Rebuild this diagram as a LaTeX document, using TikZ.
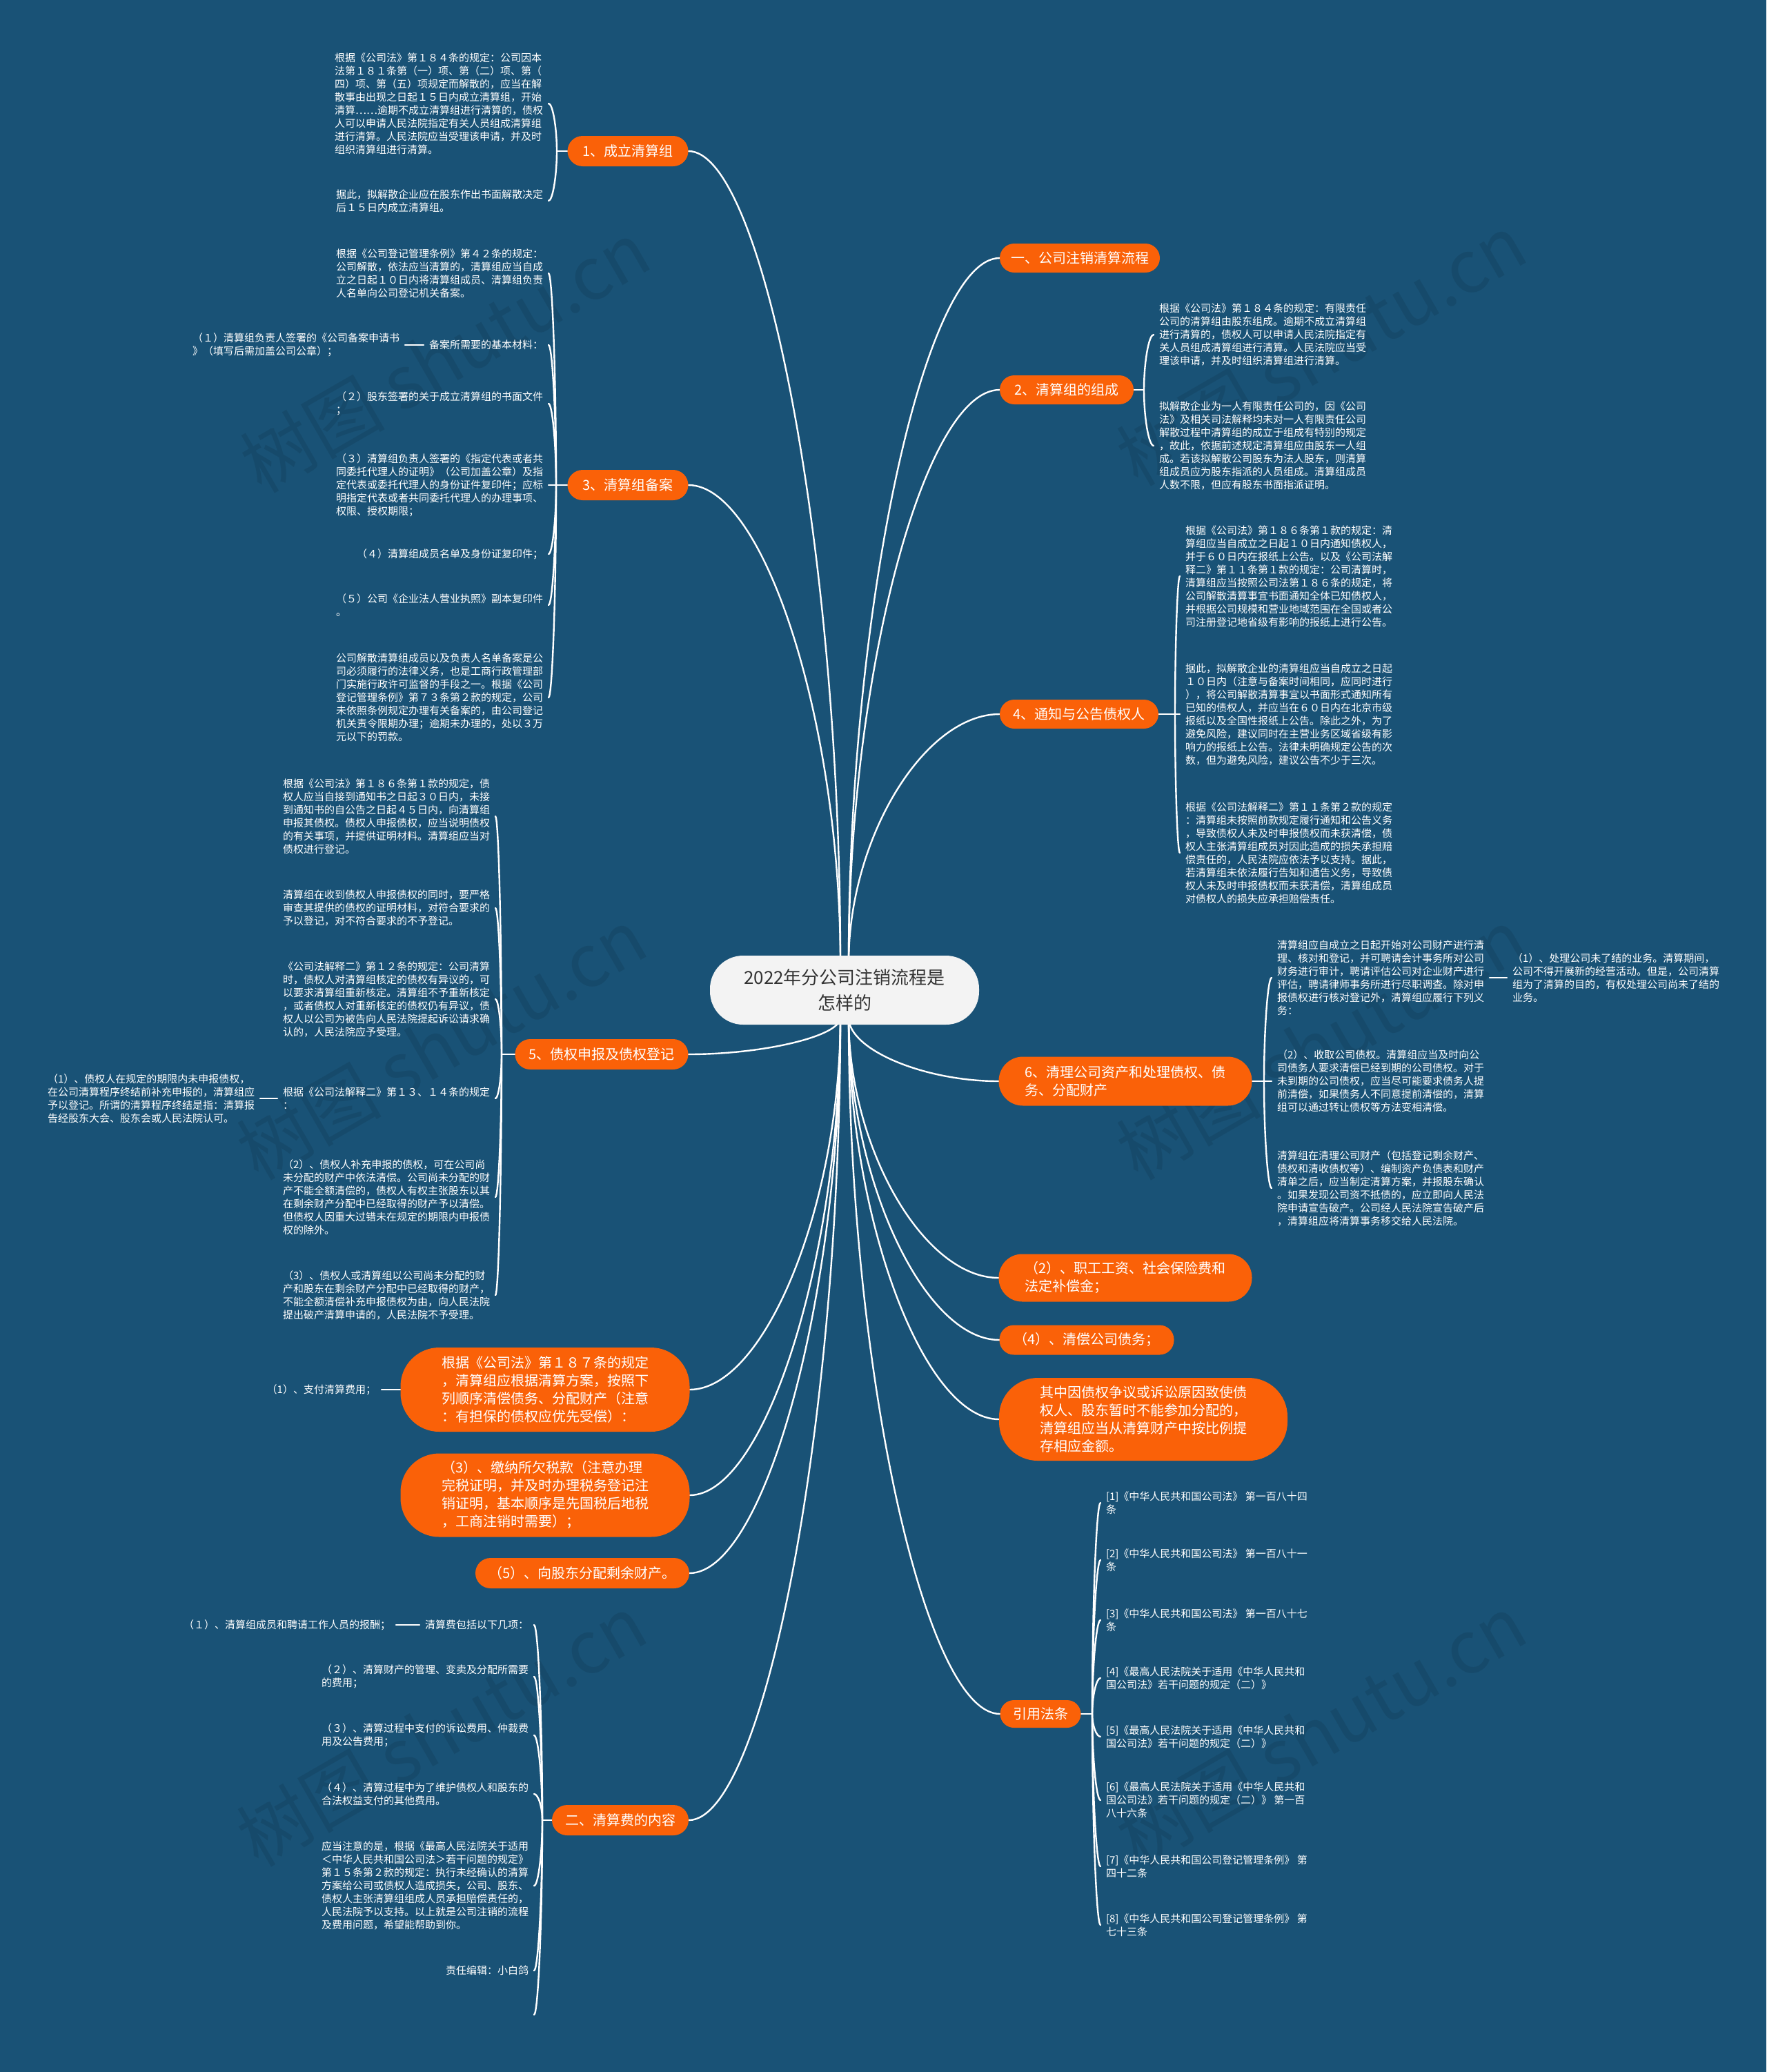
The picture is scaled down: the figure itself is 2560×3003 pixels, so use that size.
\documentclass[tikz,border=0pt]{standalone}
\usepackage{fontspec}
\setmainfont{Noto Sans CJK SC}
\usetikzlibrary{calc}
\pgfdeclarelayer{back}
\pgfsetlayers{back,main}
\definecolor{bgblue}{RGB}{25,82,118}
\definecolor{orng}{RGB}{250,97,8}
\definecolor{rootfill}{RGB}{243,243,243}
\definecolor{roottext}{RGB}{51,51,51}
\newcommand\leaffont{\fontsize{15pt}{19pt}\selectfont}
\newcommand\brfont{\fontsize{20pt}{26pt}\selectfont}
\newcommand\rtfont{\fontsize{26pt}{37pt}\selectfont}
\newcommand\wmfont{\fontsize{105pt}{105pt}\selectfont}
\tikzset{
  link/.style={draw=white, line width=2.4pt, line cap=round},
  leafL/.style={anchor=east, align=left, text=white, font=\leaffont, inner sep=0pt, outer sep=8pt},
  leafR/.style={anchor=west, align=left, text=white, font=\leaffont, inner sep=0pt, outer sep=8pt},
  brn/.style n args={3}{rectangle, fill=orng, text=white, font=\brfont, align=left, inner sep=0pt,
     minimum width=#1, minimum height=#2, rounded corners=#3},
  rootnode/.style={rectangle, fill=rootfill, text=roottext, font=\rtfont, align=center, inner sep=0pt,
     minimum width=390pt, minimum height=100pt, rounded corners=48pt},
  wmark/.style={rotate=30, text=black, opacity=0.09, font=\wmfont, inner sep=0pt}
}
\newcommand\conn[2]{\draw[link] (#1) .. controls ($(#1)!0.5!(#1|-#2)$) and ($(#2)!0.5!(#1|-#2)$) .. (#2);}
\begin{document}
\begin{tikzpicture}[x=1pt,y=-1pt]
\useasboundingbox (0,0) rectangle (2560,3003);

% ---------------- root ----------------
\node[rootnode] (R) at (1224,1435) {2022年分公司注销流程是\\怎样的};
\coordinate (RtL) at (1218,1395);
\coordinate (RtR) at (1230,1395);
\coordinate (RbL) at (1218,1475);
\coordinate (RbR) at (1230,1475);

% ---------------- branch nodes ----------------
\node[brn={175pt}{44pt}{22pt}] (b1) at (910,219) {1、成立清算组};
\node[brn={175pt}{44pt}{22pt}] (b3) at (910,703) {3、清算组备案};
\node[brn={251pt}{44pt}{22pt}] (b5) at (872,1528) {5、债权申报及债权登记};
\node[brn={419pt}{122pt}{56pt}] (b187) at (790,2014) {根据《公司法》第１８７条的规定\\，清算组应根据清算方案，按照下\\列顺序清偿债务、分配财产（注意\\：有担保的债权应优先受偿）：};
\node[brn={419pt}{121pt}{56pt}] (btax) at (790,2167) {（3）、缴纳所欠税款（注意办理\\完税证明，并及时办理税务登记注\\销证明，基本顺序是先国税后地税\\，工商注销时需要）；};
\node[brn={310pt}{44pt}{22pt}] (bdist) at (844,2280) {（5）、向股东分配剩余财产。};
\node[brn={198pt}{44pt}{22pt}] (b9) at (899,2638) {二、清算费的内容};

\node[brn={232pt}{42pt}{21pt}] (r1) at (1565,374) {一、公司注销清算流程};
\node[brn={194pt}{42pt}{21pt}] (b2) at (1546,565) {2、清算组的组成};
\node[brn={230pt}{42pt}{21pt}] (b4) at (1564,1035) {4、通知与公告债权人};
\node[brn={367pt}{71pt}{35pt}] (b6) at (1631,1567) {6、清理公司资产和处理债权、债\\务、分配财产};
\node[brn={367pt}{69pt}{34pt}] (bwage) at (1631,1852) {（2）、职工工资、社会保险费和\\法定补偿金；};
\node[brn={253pt}{43pt}{21pt}] (bdebt) at (1575,1942) {（4）、清偿公司债务；};
\node[brn={418pt}{120pt}{56pt}] (bq) at (1657,2057) {其中因债权争议或诉讼原因致使债\\权人、股东暂时不能参加分配的，\\清算组应当从清算财产中按比例提\\存相应金额。};
\node[brn={117pt}{40pt}{20pt}] (bref) at (1508,2484) {引用法条};

% ---------------- group 1 ----------------
\coordinate (s1) at (807,219);
\node[leafL] (L1a) at (795,150) {根据《公司法》第１８４条的规定：公司因本\\法第１８１条第（一）项、第（二）项、第（\\四）项、第（五）项规定而解散的，应当在解\\散事由出现之日起１５日内成立清算组，开始\\清算……逾期不成立清算组进行清算的，债权\\人可以申请人民法院指定有关人员组成清算组\\进行清算。人民法院应当受理该申请，并及时\\组织清算组进行清算。};
\node[leafL] (L1b) at (795,291) {据此，拟解散企业应在股东作出书面解散决定\\后１５日内成立清算组。};

% ---------------- group 3 ----------------
\coordinate (s3) at (806,703);
\node[leafL] (L3a) at (795,396) {根据《公司登记管理条例》第４２条的规定：\\公司解散，依法应当清算的，清算组应当自成\\立之日起１０日内将清算组成员、清算组负责\\人名单向公司登记机关备案。};
\node[leafL] (L3b) at (795,500) {备案所需要的基本材料：};
\node[leafL] (C3b) at (587,500) {（１）清算组负责人签署的《公司备案申请书\\》（填写后需加盖公司公章）；};
\node[leafL] (L3c) at (795,585) {（２）股东签署的关于成立清算组的书面文件\\；};
\node[leafL] (L3d) at (795,703) {（３）清算组负责人签署的《指定代表或者共\\同委托代理人的证明》（公司加盖公章）及指\\定代表或委托代理人的身份证件复印件；应标\\明指定代表或者共同委托代理人的办理事项、\\权限、授权期限；};
\node[leafL] (L3e) at (795,803) {（４）清算组成员名单及身份证复印件；};
\node[leafL] (L3f) at (795,877) {（５）公司《企业法人营业执照》副本复印件\\。};
\node[leafL] (L3g) at (795,1011) {公司解散清算组成员以及负责人名单备案是公\\司必须履行的法律义务，也是工商行政管理部\\门实施行政许可监督的手段之一。根据《公司\\登记管理条例》第７３条第２款的规定，公司\\未依照条例规定办理有关备案的，由公司登记\\机关责令限期办理；逾期未办理的，处以３万\\元以下的罚款。};

% ---------------- group 2 ----------------
\coordinate (s2) at (1658,565);
\node[leafR] (L2a) at (1672,485) {根据《公司法》第１８４条的规定：有限责任\\公司的清算组由股东组成。逾期不成立清算组\\进行清算的，债权人可以申请人民法院指定有\\关人员组成清算组进行清算。人民法院应当受\\理该申请，并及时组织清算组进行清算。};
\node[leafR] (L2b) at (1672,646) {拟解散企业为一人有限责任公司的，因《公司\\法》及相关司法解释均未对一人有限责任公司\\解散过程中清算组的成立于组成有特别的规定\\，故此，依据前述规定清算组应由股东一人组\\成。若该拟解散公司股东为法人股东，则清算\\组成员应为股东指派的人员组成。清算组成员\\人数不限，但应有股东书面指派证明。};

% ---------------- group 4 ----------------
\coordinate (s4) at (1703,1035);
\node[leafR] (L4a) at (1710,835) {根据《公司法》第１８６条第１款的规定：清\\算组应当自成立之日起１０日内通知债权人，\\并于６０日内在报纸上公告。以及《公司法解\\释二》第１１条第１款的规定：公司清算时，\\清算组应当按照公司法第１８６条的规定，将\\公司解散清算事宜书面通知全体已知债权人，\\并根据公司规模和营业地域范围在全国或者公\\司注册登记地省级有影响的报纸上进行公告。};
\node[leafR] (L4b) at (1710,1035) {据此，拟解散企业的清算组应当自成立之日起\\１０日内（注意与备案时间相同，应同时进行\\），将公司解散清算事宜以书面形式通知所有\\已知的债权人，并应当在６０日内在北京市级\\报纸以及全国性报纸上公告。除此之外，为了\\避免风险，建议同时在主营业务区域省级有影\\响力的报纸上公告。法律未明确规定公告的次\\数，但为避免风险，建议公告不少于三次。};
\node[leafR] (L4c) at (1710,1236) {根据《公司法解释二》第１１条第２款的规定\\：清算组未按照前款规定履行通知和公告义务\\，导致债权人未及时申报债权而未获清偿，债\\权人主张清算组成员对因此造成的损失承担赔\\偿责任的，人民法院应依法予以支持。据此，\\若清算组未依法履行告知和通告义务，导致债\\权人未及时申报债权而未获清偿，清算组成员\\对债权人的损失应承担赔偿责任。};

% ---------------- group 6 ----------------
\coordinate (s6) at (1832,1567);
\node[leafR] (L6a) at (1843,1417) {清算组应自成立之日起开始对公司财产进行清\\理、核对和登记，并可聘请会计事务所对公司\\财务进行审计，聘请评估公司对企业财产进行\\评估，聘请律师事务所进行尽职调查。除对申\\报债权进行核对登记外，清算组应履行下列义\\务：};
\node[leafR] (C6a) at (2184,1417) {（1）、处理公司未了结的业务。清算期间，\\公司不得开展新的经营活动。但是，公司清算\\组为了清算的目的，有权处理公司尚未了结的\\业务。};
\node[leafR] (L6b) at (1843,1567) {（2）、收取公司债权。清算组应当及时向公\\司债务人要求清偿已经到期的公司债权。对于\\未到期的公司债权，应当尽可能要求债务人提\\前清偿，如果债务人不同意提前清偿的，清算\\组可以通过转让债权等方法变相清偿。};
\node[leafR] (L6c) at (1843,1722) {清算组在清理公司财产（包括登记剩余财产、\\债权和清收债权等）、编制资产负债表和财产\\清单之后，应当制定清算方案，并报股东确认\\。如果发现公司资不抵债的，应立即向人民法\\院申请宣告破产。公司经人民法院宣告破产后\\，清算组应将清算事务移交给人民法院。};

% ---------------- group 5 ----------------
\coordinate (s5) at (727,1528);
\node[leafL] (L5a) at (718,1183) {根据《公司法》第１８６条第１款的规定，债\\权人应当自接到通知书之日起３０日内，未接\\到通知书的自公告之日起４５日内，向清算组\\申报其债权。债权人申报债权，应当说明债权\\的有关事项，并提供证明材料。清算组应当对\\债权进行登记。};
\node[leafL] (L5b) at (718,1316) {清算组在收到债权人申报债权的同时，要严格\\审查其提供的债权的证明材料，对符合要求的\\予以登记，对不符合要求的不予登记。};
\node[leafL] (L5c) at (718,1448) {《公司法解释二》第１２条的规定：公司清算\\时，债权人对清算组核定的债权有异议的，可\\以要求清算组重新核定。清算组不予重新核定\\，或者债权人对重新核定的债权仍有异议，债\\权人以公司为被告向人民法院提起诉讼请求确\\认的，人民法院应予受理。};
\node[leafL] (L5d) at (718,1592) {根据《公司法解释二》第１３、１４条的规定\\：};
\node[leafL] (C5d) at (377,1592) {（1）、债权人在规定的期限内未申报债权，\\在公司清算程序终结前补充申报的，清算组应\\予以登记。所谓的清算程序终结是指：清算报\\告经股东大会、股东会或人民法院认可。};
\node[leafL] (L5e) at (718,1735) {（2）、债权人补充申报的债权，可在公司尚\\未分配的财产中依法清偿。公司尚未分配的财\\产不能全额清偿的，债权人有权主张股东以其\\在剩余财产分配中已经取得的财产予以清偿。\\但债权人因重大过错未在规定的期限内申报债\\权的除外。};
\node[leafL] (L5f) at (718,1877) {（3）、债权人或清算组以公司尚未分配的财\\产和股东在剩余财产分配中已经取得的财产，\\不能全额清偿补充申报债权为由，向人民法院\\提出破产清算申请的，人民法院不予受理。};

% ---------------- group 187 ----------------
\node[leafL] (C187) at (553,2014) {（1）、支付清算费用；};

% ---------------- group 9 ----------------
\coordinate (s9) at (786,2638);
\node[leafL] (L9a) at (774,2355) {清算费包括以下几项：};
\node[leafL] (C9a) at (574,2355) {（１）、清算组成员和聘请工作人员的报酬；};
\node[leafL] (L9b) at (774,2430) {（２）、清算财产的管理、变卖及分配所需要\\的费用；};
\node[leafL] (L9c) at (774,2515) {（３）、清算过程中支付的诉讼费用、仲裁费\\用及公告费用；};
\node[leafL] (L9d) at (774,2600) {（４）、清算过程中为了维护债权人和股东的\\合法权益支付的其他费用。};
\node[leafL] (L9e) at (774,2733) {应当注意的是，根据《最高人民法院关于适用\\＜中华人民共和国公司法＞若干问题的规定》\\第１５条第２款的规定：执行未经确认的清算\\方案给公司或债权人造成损失，公司、股东、\\债权人主张清算组组成人员承担赔偿责任的，\\人民法院予以支持。以上就是公司注销的流程\\及费用问题，希望能帮助到你。};
\node[leafL] (L9f) at (774,2856) {责任编辑：小白鸽};
\coordinate (L9g) at (774,2920);

% ---------------- references ----------------
\coordinate (sr) at (1583,2484);
\node[leafR] (F1) at (1595,2178) {[1]《中华人民共和国公司法》 第一百八十四\\条};
\node[leafR] (F2) at (1595,2261) {[2]《中华人民共和国公司法》 第一百八十一\\条};
\node[leafR] (F3) at (1595,2348) {[3]《中华人民共和国公司法》 第一百八十七\\条};
\node[leafR] (F4) at (1595,2432) {[4]《最高人民法院关于适用《中华人民共和\\国公司法》若干问题的规定（二）》};
\node[leafR] (F5) at (1595,2517) {[5]《最高人民法院关于适用《中华人民共和\\国公司法》若干问题的规定（二）》};
\node[leafR] (F6) at (1595,2609) {[6]《最高人民法院关于适用《中华人民共和\\国公司法》若干问题的规定（二）》 第一百\\八十六条};
\node[leafR] (F7) at (1595,2705) {[7]《中华人民共和国公司登记管理条例》 第\\四十二条};
\node[leafR] (F8) at (1595,2790) {[8]《中华人民共和国公司登记管理条例》 第\\七十三条};

% ---------------- background, watermarks, connectors ----------------
\begin{pgfonlayer}{back}
\fill[bgblue] (0,0) rectangle (2560,3003);
\node[wmark] (w1) at (645,517) {树图 shutu.cn};
\node[wmark] (w2) at (1915,507) {树图 shutu.cn};
\node[wmark] (w3) at (640,1513) {树图 shutu.cn};
\node[wmark] (w4) at (1915,1513) {树图 shutu.cn};
\node[wmark] (w5) at (640,2508) {树图 shutu.cn};
\node[wmark] (w6) at (1915,2508) {树图 shutu.cn};

% root to branches
\conn{RtL}{b1.east}
\conn{RtL}{b3.east}
\conn{RbL}{b5.east}
\conn{RbL}{b187.east}
\conn{RbL}{btax.east}
\conn{RbL}{bdist.east}
\conn{RbL}{b9.east}
\conn{RtR}{r1.west}
\conn{RtR}{b2.west}
\conn{RtR}{b4.west}
\conn{RbR}{b6.west}
\conn{RbR}{bwage.west}
\conn{RbR}{bdebt.west}
\conn{RbR}{bq.west}
\conn{RbR}{bref.west}

% group 1
\draw[link] (b1.west) -- (s1);
\conn{s1}{L1a.east}
\conn{s1}{L1b.east}
% group 3
\draw[link] (b3.west) -- (s3);
\conn{s3}{L3a.east}
\conn{s3}{L3b.east}
\conn{s3}{L3c.east}
\draw[link] (s3) -- (L3d.east);
\conn{s3}{L3e.east}
\conn{s3}{L3f.east}
\conn{s3}{L3g.east}
\draw[link] (L3b.west) -- (C3b.east);
% group 2
\draw[link] (b2.east) -- (s2);
\conn{s2}{L2a.west}
\conn{s2}{L2b.west}
% group 4
\draw[link] (b4.east) -- (s4);
\conn{s4}{L4a.west}
\draw[link] (s4) -- (L4b.west);
\conn{s4}{L4c.west}
% group 6
\draw[link] (b6.east) -- (s6);
\conn{s6}{L6a.west}
\draw[link] (s6) -- (L6b.west);
\conn{s6}{L6c.west}
\draw[link] (L6a.east) -- (C6a.west);
% group 5
\draw[link] (b5.west) -- (s5);
\conn{s5}{L5a.east}
\conn{s5}{L5b.east}
\conn{s5}{L5c.east}
\conn{s5}{L5d.east}
\conn{s5}{L5e.east}
\conn{s5}{L5f.east}
\draw[link] (L5d.west) -- (C5d.east);
% group 187
\draw[link] (b187.west) -- (C187.east);
% group 9
\draw[link] (b9.west) -- (s9);
\conn{s9}{L9a.east}
\conn{s9}{L9b.east}
\conn{s9}{L9c.east}
\conn{s9}{L9d.east}
\conn{s9}{L9e.east}
\conn{s9}{L9f.east}
\conn{s9}{L9g}
\draw[link] (L9a.west) -- (C9a.east);
% references
\draw[link] (bref.east) -- (sr);
\conn{sr}{F1.west}
\conn{sr}{F2.west}
\conn{sr}{F3.west}
\conn{sr}{F4.west}
\conn{sr}{F5.west}
\conn{sr}{F6.west}
\conn{sr}{F7.west}
\conn{sr}{F8.west}
\end{pgfonlayer}
\end{tikzpicture}
\end{document}
